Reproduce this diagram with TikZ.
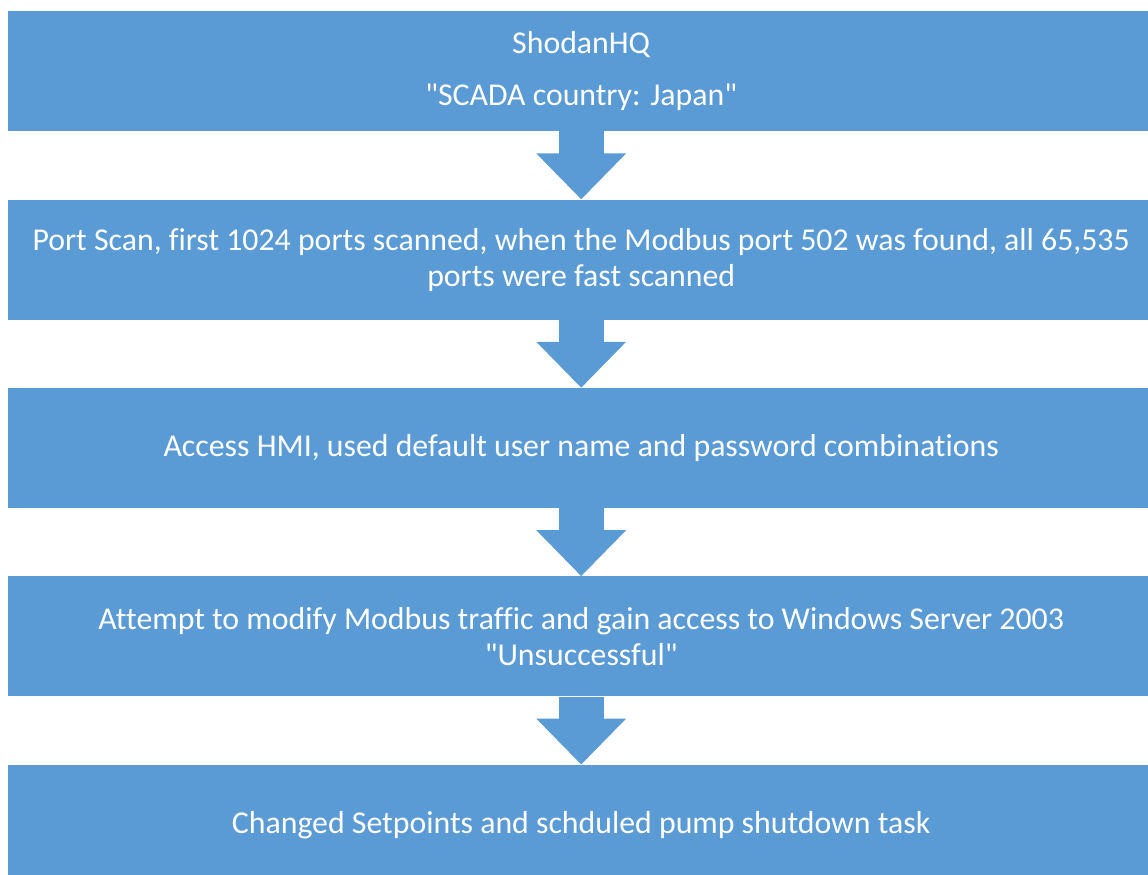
\documentclass[tikz,border=0pt]{standalone}
\usepackage{fontspec}
\newfontfamily\stagefont{Carlito}[Ligatures=NoCommon]
\usepackage{tikz}
\usetikzlibrary{positioning}
\usetikzlibrary{arrows.meta}
\definecolor{stepblue}{HTML}{5B9BD5}

\tikzset{
  stage/.style={fill=stepblue, text=white, minimum width=1146pt, minimum height=120pt,
    inner sep=0pt, align=center, font=\stagefont\fontsize{31.8}{36}\selectfont},
  flow/.style={stepblue, line width=45pt, -{Triangle[width=87pt,length=46pt]}}
}

\begin{document}
\begin{tikzpicture}[x=1pt,y=1pt]
\clip (0,0) rectangle (1148,-875);

% Draw stages
\node[stage, anchor=north west] (shodan) at (8,-11) {ShodanHQ\\[16pt]"SCADA country: Japan"};
\node[stage, below=68pt of shodan] (scan) {Port Scan, first 1024 ports scanned, when the Modbus port 502 was found, all 65,535\\ports were fast scanned};
\node[stage, below=68pt of scan] (hmi) {Access HMI, used default user name and password combinations};
\node[stage, below=68pt of hmi] (modbus) {Attempt to modify Modbus traffic and gain access to Windows Server 2003\\"Unsuccessful"};
\node[stage, below=68pt of modbus] (pump) {Changed Setpoints and schduled pump shutdown task};

% Draw arrows
\draw[flow] (shodan) -- (scan);
\draw[flow] (scan) -- (hmi);
\draw[flow] (hmi) -- (modbus);
\draw[flow] (modbus) -- (pump);

\end{tikzpicture}
\end{document}
